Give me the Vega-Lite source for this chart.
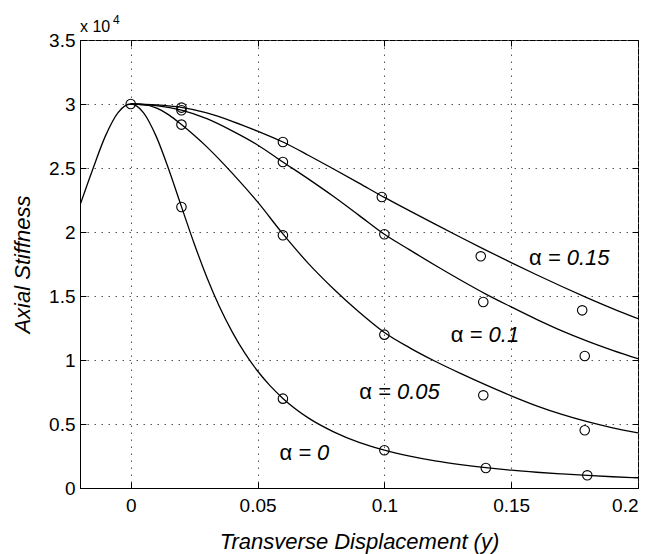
{
  "$schema": "https://vega.github.io/schema/vega-lite/v6.json",
  "width": 558,
  "height": 448,
  "autosize": {"type": "none"},
  "padding": {"left": 80, "top": 40, "right": 15, "bottom": 66},
  "background": "white",
  "config": {
    "view": {"stroke": "black", "strokeWidth": 1},
    "axis": {
      "domainColor": "black",
      "domainWidth": 1,
      "tickColor": "black",
      "tickWidth": 1,
      "labelFont": "Liberation Sans",
      "labelColor": "black",
      "titleFont": "Liberation Sans",
      "titleColor": "black",
      "titleFontWeight": "normal",
      "titleFontStyle": "italic",
      "gridColor": "#555555",
      "gridDash": [1.5, 5.5],
      "gridWidth": 1
    }
  },
  "datasets": {
    "curves": [
      {"x": -0.02, "stiffness": 22100, "alpha": "0"},
      {"x": -0.015, "stiffness": 24890, "alpha": "0"},
      {"x": -0.01, "stiffness": 27490, "alpha": "0"},
      {"x": -0.005, "stiffness": 29330, "alpha": "0"},
      {"x": 0, "stiffness": 30000, "alpha": "0"},
      {"x": 0.005, "stiffness": 29330, "alpha": "0"},
      {"x": 0.01, "stiffness": 27490, "alpha": "0"},
      {"x": 0.015, "stiffness": 24890, "alpha": "0"},
      {"x": 0.02, "stiffness": 21980, "alpha": "0"},
      {"x": 0.025, "stiffness": 19100, "alpha": "0"},
      {"x": 0.03, "stiffness": 16470, "alpha": "0"},
      {"x": 0.035, "stiffness": 14160, "alpha": "0"},
      {"x": 0.04, "stiffness": 12200, "alpha": "0"},
      {"x": 0.045, "stiffness": 10530, "alpha": "0"},
      {"x": 0.05, "stiffness": 9140, "alpha": "0"},
      {"x": 0.055, "stiffness": 7980, "alpha": "0"},
      {"x": 0.06, "stiffness": 7000, "alpha": "0"},
      {"x": 0.07, "stiffness": 5480, "alpha": "0"},
      {"x": 0.08, "stiffness": 4390, "alpha": "0"},
      {"x": 0.09, "stiffness": 3570, "alpha": "0"},
      {"x": 0.1, "stiffness": 2960, "alpha": "0"},
      {"x": 0.11, "stiffness": 2490, "alpha": "0"},
      {"x": 0.12, "stiffness": 2120, "alpha": "0"},
      {"x": 0.13, "stiffness": 1830, "alpha": "0"},
      {"x": 0.14, "stiffness": 1590, "alpha": "0"},
      {"x": 0.15, "stiffness": 1390, "alpha": "0"},
      {"x": 0.16, "stiffness": 1230, "alpha": "0"},
      {"x": 0.17, "stiffness": 1100, "alpha": "0"},
      {"x": 0.18, "stiffness": 980, "alpha": "0"},
      {"x": 0.19, "stiffness": 880, "alpha": "0"},
      {"x": 0.2, "stiffness": 800, "alpha": "0"},

      {"x": 0, "stiffness": 30000, "alpha": "0.05"},
      {"x": 0.005, "stiffness": 29950, "alpha": "0.05"},
      {"x": 0.01, "stiffness": 29700, "alpha": "0.05"},
      {"x": 0.015, "stiffness": 29150, "alpha": "0.05"},
      {"x": 0.02, "stiffness": 28390, "alpha": "0.05"},
      {"x": 0.025, "stiffness": 27550, "alpha": "0.05"},
      {"x": 0.03, "stiffness": 26650, "alpha": "0.05"},
      {"x": 0.04, "stiffness": 24600, "alpha": "0.05"},
      {"x": 0.05, "stiffness": 22350, "alpha": "0.05"},
      {"x": 0.06, "stiffness": 19850, "alpha": "0.05"},
      {"x": 0.07, "stiffness": 17550, "alpha": "0.05"},
      {"x": 0.08, "stiffness": 15550, "alpha": "0.05"},
      {"x": 0.09, "stiffness": 13750, "alpha": "0.05"},
      {"x": 0.1, "stiffness": 12150, "alpha": "0.05"},
      {"x": 0.11, "stiffness": 10950, "alpha": "0.05"},
      {"x": 0.12, "stiffness": 9900, "alpha": "0.05"},
      {"x": 0.13, "stiffness": 8950, "alpha": "0.05"},
      {"x": 0.14, "stiffness": 8050, "alpha": "0.05"},
      {"x": 0.15, "stiffness": 7200, "alpha": "0.05"},
      {"x": 0.16, "stiffness": 6420, "alpha": "0.05"},
      {"x": 0.17, "stiffness": 5750, "alpha": "0.05"},
      {"x": 0.18, "stiffness": 5180, "alpha": "0.05"},
      {"x": 0.19, "stiffness": 4700, "alpha": "0.05"},
      {"x": 0.2, "stiffness": 4300, "alpha": "0.05"},

      {"x": 0, "stiffness": 30000, "alpha": "0.1"},
      {"x": 0.01, "stiffness": 29880, "alpha": "0.1"},
      {"x": 0.02, "stiffness": 29520, "alpha": "0.1"},
      {"x": 0.03, "stiffness": 28850, "alpha": "0.1"},
      {"x": 0.04, "stiffness": 27900, "alpha": "0.1"},
      {"x": 0.05, "stiffness": 26800, "alpha": "0.1"},
      {"x": 0.06, "stiffness": 25470, "alpha": "0.1"},
      {"x": 0.07, "stiffness": 24150, "alpha": "0.1"},
      {"x": 0.08, "stiffness": 22770, "alpha": "0.1"},
      {"x": 0.09, "stiffness": 21300, "alpha": "0.1"},
      {"x": 0.1, "stiffness": 19820, "alpha": "0.1"},
      {"x": 0.11, "stiffness": 18600, "alpha": "0.1"},
      {"x": 0.12, "stiffness": 17400, "alpha": "0.1"},
      {"x": 0.13, "stiffness": 16250, "alpha": "0.1"},
      {"x": 0.14, "stiffness": 15150, "alpha": "0.1"},
      {"x": 0.15, "stiffness": 14150, "alpha": "0.1"},
      {"x": 0.16, "stiffness": 13180, "alpha": "0.1"},
      {"x": 0.17, "stiffness": 12280, "alpha": "0.1"},
      {"x": 0.18, "stiffness": 11480, "alpha": "0.1"},
      {"x": 0.19, "stiffness": 10760, "alpha": "0.1"},
      {"x": 0.2, "stiffness": 10100, "alpha": "0.1"},

      {"x": 0, "stiffness": 30000, "alpha": "0.15"},
      {"x": 0.01, "stiffness": 29930, "alpha": "0.15"},
      {"x": 0.02, "stiffness": 29730, "alpha": "0.15"},
      {"x": 0.03, "stiffness": 29300, "alpha": "0.15"},
      {"x": 0.04, "stiffness": 28650, "alpha": "0.15"},
      {"x": 0.05, "stiffness": 27880, "alpha": "0.15"},
      {"x": 0.06, "stiffness": 27030, "alpha": "0.15"},
      {"x": 0.07, "stiffness": 26000, "alpha": "0.15"},
      {"x": 0.08, "stiffness": 24920, "alpha": "0.15"},
      {"x": 0.09, "stiffness": 23820, "alpha": "0.15"},
      {"x": 0.1, "stiffness": 22700, "alpha": "0.15"},
      {"x": 0.11, "stiffness": 21650, "alpha": "0.15"},
      {"x": 0.12, "stiffness": 20610, "alpha": "0.15"},
      {"x": 0.13, "stiffness": 19590, "alpha": "0.15"},
      {"x": 0.14, "stiffness": 18590, "alpha": "0.15"},
      {"x": 0.15, "stiffness": 17610, "alpha": "0.15"},
      {"x": 0.16, "stiffness": 16660, "alpha": "0.15"},
      {"x": 0.17, "stiffness": 15740, "alpha": "0.15"},
      {"x": 0.18, "stiffness": 14860, "alpha": "0.15"},
      {"x": 0.19, "stiffness": 14020, "alpha": "0.15"},
      {"x": 0.2, "stiffness": 13230, "alpha": "0.15"}
    ],
    "samples": [
      {"x": 0, "stiffness": 30000, "alpha": "0"},
      {"x": 0.02, "stiffness": 21950, "alpha": "0"},
      {"x": 0.06, "stiffness": 6980, "alpha": "0"},
      {"x": 0.1, "stiffness": 2950, "alpha": "0"},
      {"x": 0.14, "stiffness": 1560, "alpha": "0"},
      {"x": 0.18, "stiffness": 990, "alpha": "0"},
      {"x": 0.02, "stiffness": 28390, "alpha": "0.05"},
      {"x": 0.06, "stiffness": 19740, "alpha": "0.05"},
      {"x": 0.1, "stiffness": 11980, "alpha": "0.05"},
      {"x": 0.139, "stiffness": 7240, "alpha": "0.05"},
      {"x": 0.179, "stiffness": 4510, "alpha": "0.05"},
      {"x": 0.02, "stiffness": 29510, "alpha": "0.1"},
      {"x": 0.06, "stiffness": 25470, "alpha": "0.1"},
      {"x": 0.1, "stiffness": 19820, "alpha": "0.1"},
      {"x": 0.139, "stiffness": 14530, "alpha": "0.1"},
      {"x": 0.179, "stiffness": 10310, "alpha": "0.1"},
      {"x": 0.02, "stiffness": 29720, "alpha": "0.15"},
      {"x": 0.06, "stiffness": 27030, "alpha": "0.15"},
      {"x": 0.099, "stiffness": 22730, "alpha": "0.15"},
      {"x": 0.138, "stiffness": 18100, "alpha": "0.15"},
      {"x": 0.178, "stiffness": 13880, "alpha": "0.15"}
    ],
    "labels": [
      {"x": 0.1644, "stiffness": 17400, "value": "= 0.15"},
      {"x": 0.1336, "stiffness": 11410, "value": "= 0.1"},
      {"x": 0.0975, "stiffness": 6980, "value": "= 0.05"},
      {"x": 0.066, "stiffness": 2160, "value": "= 0"}
    ]
  },
  "resolve": {"axis": {"x": "independent", "y": "independent"}},
  "layer": [
    {
      "data": {"name": "curves"},
      "mark": {"type": "line", "color": "black", "strokeWidth": 1.3, "interpolate": "monotone", "clip": true},
      "encoding": {
        "x": {
          "field": "x", "type": "quantitative",
          "scale": {"domain": [-0.02, 0.2], "nice": false, "zero": false},
          "axis": {
            "orient": "bottom",
            "values": [0, 0.05, 0.1, 0.15, 0.2],
            "labelExpr": "format(datum.value, '~g')",
            "labelFontSize": 19,
            "tickSize": -6,
            "labelPadding": 14,
            "grid": true,
            "title": "Transverse Displacement (y)",
            "titleFontSize": 22,
            "titleBaseline": "alphabetic",
            "titleY": 60
          }
        },
        "y": {
          "field": "stiffness", "type": "quantitative",
          "scale": {"domain": [0, 35000], "nice": false},
          "axis": {
            "orient": "left",
            "values": [0, 5000, 10000, 15000, 20000, 25000, 30000, 35000],
            "labelExpr": "datum.value / 10000",
            "labelFontSize": 19,
            "tickSize": -6,
            "labelPadding": 11,
            "grid": true,
            "title": "Axial Stiffness",
            "titleFontSize": 22,
            "titleAngle": -90,
            "titleAlign": "center",
            "titleBaseline": "middle",
            "titleX": -58,
            "titleY": 224
          }
        },
        "detail": {"field": "alpha"}
      }
    },
    {
      "data": {"name": "samples"},
      "mark": {"type": "point", "shape": "circle", "filled": false, "stroke": "black", "strokeWidth": 1.1, "size": 90, "opacity": 1},
      "encoding": {
        "x": {
          "field": "x", "type": "quantitative",
          "axis": {"orient": "top", "values": [0, 0.05, 0.1, 0.15, 0.2], "labels": false, "title": null, "grid": false, "tickSize": -6, "domain": false}
        },
        "y": {
          "field": "stiffness", "type": "quantitative",
          "axis": {"orient": "right", "values": [0, 5000, 10000, 15000, 20000, 25000, 30000, 35000], "labels": false, "title": null, "grid": false, "tickSize": -6, "domain": false}
        }
      }
    },
    {
      "data": {"name": "labels"},
      "mark": {"type": "text", "font": "Liberation Sans", "fontSize": 22, "fontStyle": "italic", "align": "left", "baseline": "alphabetic", "color": "black"},
      "encoding": {
        "x": {"field": "x", "type": "quantitative", "axis": null},
        "y": {"field": "stiffness", "type": "quantitative", "axis": null},
        "text": {"field": "value"}
      }
    },
    {
      "data": {"name": "labels"},
      "mark": {"type": "text", "font": "Liberation Sans", "fontSize": 22, "align": "right", "baseline": "alphabetic", "dx": -6, "color": "black", "text": "α"},
      "encoding": {
        "x": {"field": "x", "type": "quantitative", "axis": null},
        "y": {"field": "stiffness", "type": "quantitative", "axis": null}
      }
    },
    {
      "data": {"values": [{"x": -0.02, "stiffness": 35000}]},
      "mark": {"type": "text", "font": "Liberation Sans", "fontSize": 16, "align": "left", "baseline": "alphabetic", "dy": -8, "color": "black", "text": "x 10"},
      "encoding": {
        "x": {"field": "x", "type": "quantitative", "axis": null},
        "y": {"field": "stiffness", "type": "quantitative", "axis": null}
      }
    },
    {
      "data": {"values": [{"x": -0.02, "stiffness": 35000}]},
      "mark": {"type": "text", "font": "Liberation Sans", "fontSize": 12, "align": "left", "baseline": "alphabetic", "dx": 33, "dy": -16, "color": "black", "text": "4"},
      "encoding": {
        "x": {"field": "x", "type": "quantitative", "axis": null},
        "y": {"field": "stiffness", "type": "quantitative", "axis": null}
      }
    }
  ]
}
